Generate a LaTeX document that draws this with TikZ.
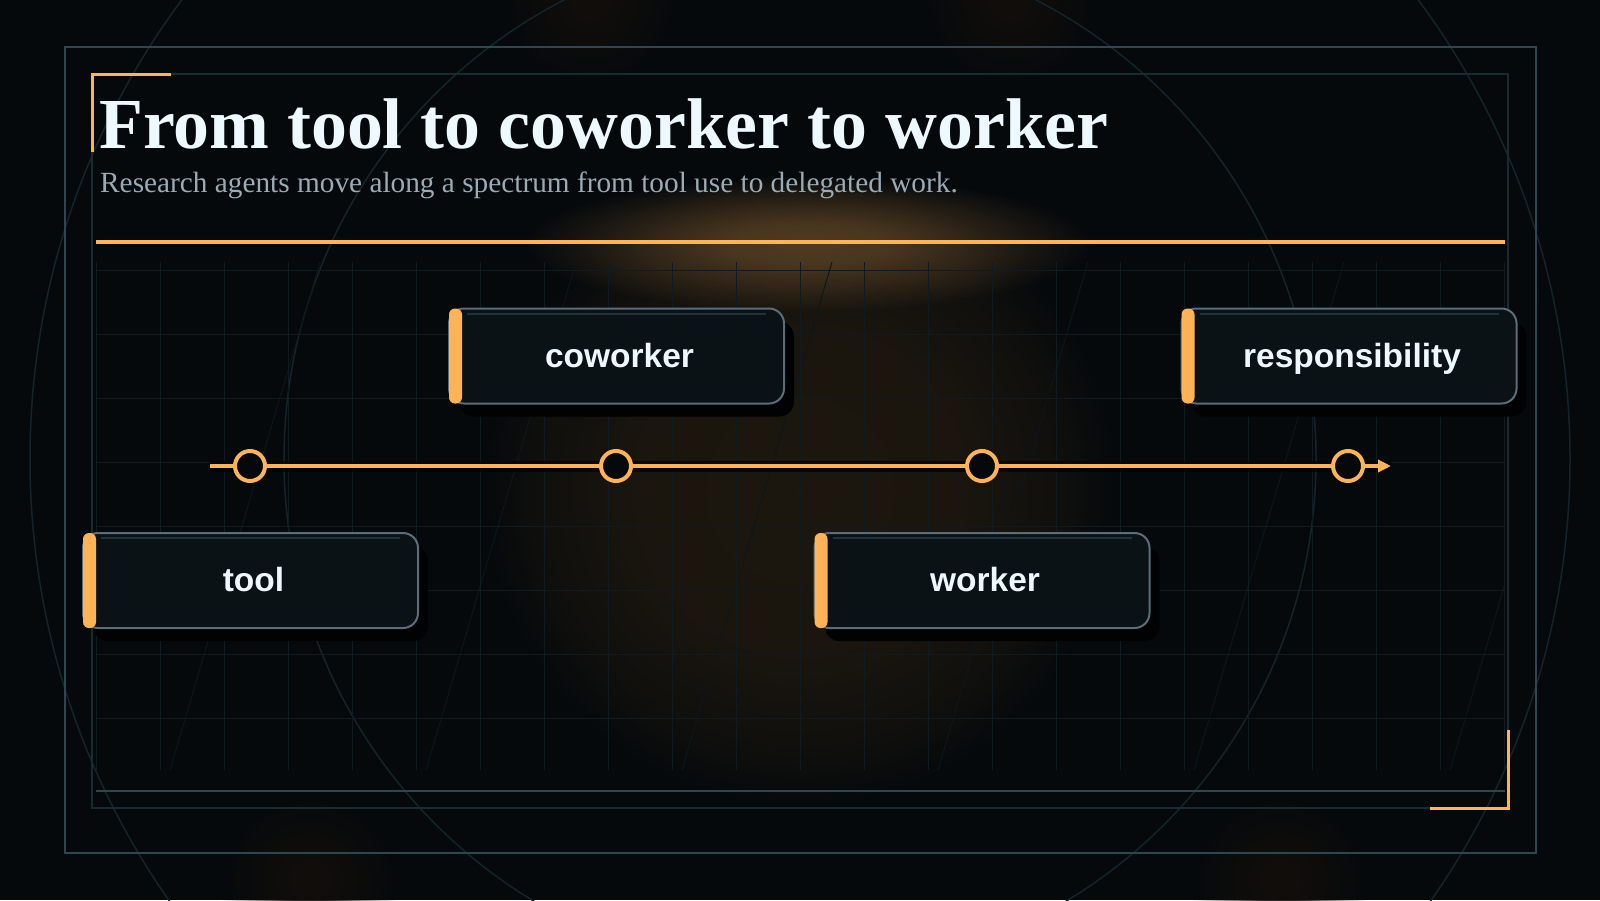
\documentclass[tikz,border=0pt]{standalone}
\usepackage{fontspec}
\setmainfont{Liberation Serif}
\newfontfamily\sansbold{Liberation Sans}
\usetikzlibrary{arrows.meta,shadows,fadings}
\definecolor{bgc}{HTML}{05090C}
\definecolor{boxfill}{HTML}{0B1216}
\definecolor{boxborder}{HTML}{5A6D78}
\definecolor{hlc}{HTML}{22323A}
\definecolor{orng}{HTML}{FFB357}
\definecolor{titlec}{HTML}{EEF8FF}
\definecolor{subc}{HTML}{9AABB5}
\definecolor{framec}{HTML}{2F4650}
\definecolor{innerc}{HTML}{1B2A31}
\definecolor{gridc}{HTML}{0F1B21}
\definecolor{circc}{HTML}{13242B}
\definecolor{diagc}{HTML}{0C161B}
\definecolor{shadowc}{HTML}{010203}
\definecolor{glowc}{HTML}{1C170F}
\definecolor{ruleglowc}{HTML}{503B22}
\definecolor{faintglowc}{HTML}{110E0B}
\pgfdeclareradialshading{softglowshade}{\pgfpoint{0bp}{0bp}}{color(0bp)=(pgftransparent!0); color(7bp)=(pgftransparent!10); color(16bp)=(pgftransparent!55); color(25bp)=(pgftransparent!100); color(50bp)=(pgftransparent!100)}
\pgfdeclarefading{softglow}{\pgfuseshading{softglowshade}}
\pgfdeclareradialshading{broadglowshade}{\pgfpoint{0bp}{0bp}}{color(0bp)=(pgftransparent!0); color(13bp)=(pgftransparent!8); color(20bp)=(pgftransparent!50); color(25bp)=(pgftransparent!100); color(50bp)=(pgftransparent!100)}
\pgfdeclarefading{broadglow}{\pgfuseshading{broadglowshade}}
\begin{document}
\begin{tikzpicture}[x=1pt,y=-1pt,
  stagebox/.style={rectangle, rounded corners=15pt, draw=boxborder, fill=boxfill,
    line width=2pt, minimum width=335pt, minimum height=95pt, inner sep=0pt, outer sep=0pt,
    text height=30pt, text depth=8pt,
    font=\sansbold\bfseries\fontsize{33.5}{40}\selectfont, text=titlec,
    execute at begin node={\hspace*{6pt}},
    drop shadow={shadow xshift=10pt, shadow yshift=-13pt, opacity=1, fill=shadowc}},
  dot/.style={circle, draw=orng, fill=bgc, line width=4pt, minimum size=30pt, inner sep=0pt},
  gridline/.style={gridc, line width=1pt},
  bgcircle/.style={circc, line width=1.5pt},
  glow/.style={path fading=softglow}]
\useasboundingbox (0,0) rectangle (1600,900);
\fill[bgc] (0,0) rectangle (1600,900);
% glows
\fill[glowc, path fading=broadglow] (800,490) circle [radius=320pt];
\fill[ruleglowc, glow] (808,244) ellipse [x radius=285pt, y radius=68pt];
\fill[faintglowc, glow] (590,0) circle [radius=90pt];
\fill[faintglowc, glow] (1010,0) circle [radius=90pt];
\fill[faintglowc, glow] (310,880) circle [radius=90pt];
\fill[faintglowc, glow] (1280,880) circle [radius=90pt];
% background circles
\draw[bgcircle] (800,459) circle [radius=770pt];
\draw[bgcircle] (800,459) circle [radius=516pt];
% grid
\begin{scope}
\clip (96,262) rectangle (1504,770);
\foreach \x in {320,576,832,1088,1344,1600} \draw[diagc, line width=1pt] (\x,262) -- ++(-150,508);
\end{scope}
\foreach \i in {0,...,22} \draw[gridline] (96+64*\i,262) -- (96+64*\i,770);
\foreach \j in {0,...,7} \draw[gridline] (96,270+64*\j) -- (1504,270+64*\j);
% frames
\draw[framec, line width=2pt] (65,47) rectangle (1536,853);
\draw[innerc, line width=1.5pt] (92,74) rectangle (1508,808);
\draw[framec, line width=2pt] (96,791) -- (1505,791);
\draw[orng, line width=3pt] (171,74) -- (92,74) -- (92,152);
\draw[orng, line width=3pt] (1508,730) -- (1508,808) -- (1430,808);
% title
\node[anchor=base west, inner sep=0pt, font=\fontsize{71.8}{80}\selectfont\bfseries, text=titlec] (title) at (99,148) {From tool to coworker to worker};
\node[anchor=base west, inner sep=0pt, font=\fontsize{29.3}{34}\selectfont, text=subc] (subtitle) at (100,192) {Research agents move along a spectrum from tool use to delegated work.};
\draw[orng, line width=4pt] (96,242) -- (1505,242);
% timeline
\coordinate (tlstart) at (210,466);
\coordinate (tlend) at (1391,466);
\draw[shadowc, line width=11pt, opacity=0.7] (tlstart) -- (tlend);
\draw[orng, line width=4.5pt, -{Triangle[length=13pt,width=12pt]}] (tlstart) -- (tlend);
\foreach \x/\n in {250/c1,616/c2,982/c3,1348/c4} \node[dot] (\n) at (\x,466) {};
% boxes
\node[stagebox] (tool) at (250.5,580.5) {tool};
\node[stagebox] (coworker) at (616.5,356) {coworker};
\node[stagebox] (worker) at (982,580.5) {worker};
\node[stagebox] (responsibility) at (1349,356) {responsibility};
\foreach \n in {tool,coworker,worker,responsibility}{
  \fill[orng, rounded corners=6pt] (\n.north west) rectangle ([xshift=13pt]\n.south west);
  \draw[hlc, line width=2pt] ([xshift=18pt,yshift=-5pt]\n.north west) -- ([xshift=-18pt,yshift=-5pt]\n.north east);
}
\end{tikzpicture}
\end{document}
